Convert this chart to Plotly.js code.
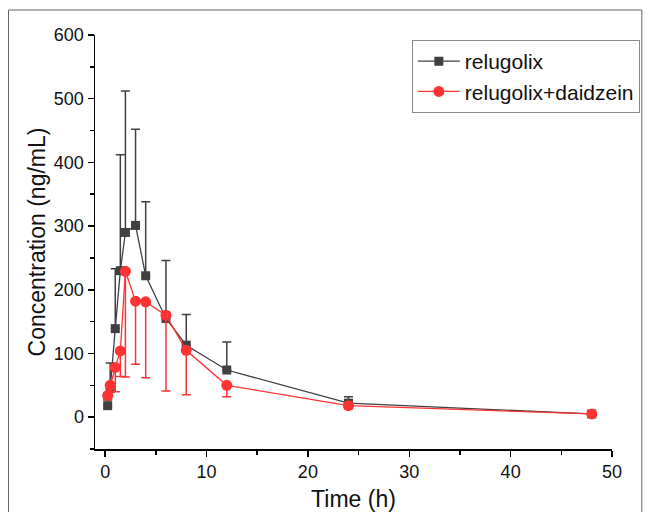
<!DOCTYPE html>
<html>
<head>
<meta charset="utf-8">
<script src="https://cdn.plot.ly/plotly-3.0.1.min.js"></script>
<style>html,body{margin:0;padding:0;background:#fff;}#chart{width:652px;height:512px;}</style>
</head>
<body>
<div id="chart"></div>
<script>
// Time points (h)
const timeH = [0.25, 0.5, 1, 1.5, 2, 3, 4, 6, 8, 12, 24, 48];
// relugolix mean concentration (ng/mL) and upper SD
const relugolix = [18, 45, 139, 230, 290, 301, 222, 155, 113, 74, 22, 5];
const relugolixSD = [9, 40, 94, 182, 222, 151, 116, 91, 48, 44, 10, 3];
// relugolix + daidzein mean concentration (ng/mL) and lower SD
const combo = [34, 50, 78, 104, 229, 182, 181, 160, 105, 50, 18, 5];
const comboSD = [6, 10, 38, 40, 166, 99, 119, 119, 70, 18, 5, 2];
const zeros = timeH.map(() => 0);

const seriesNames = ['relugolix', 'relugolix+daidzein'];
const xTicks = [0, 10, 20, 30, 40, 50];
const yTicks = [0, 100, 200, 300, 400, 500, 600];

const FONT = 'Liberation Sans, Arial, sans-serif';

const traces = [
  {
    x: timeH, y: relugolix, name: seriesNames[0], type: 'scatter', mode: 'lines+markers',
    line: {color: '#404040', width: 1.3},
    marker: {symbol: 'square', size: 9, color: '#404040'},
    error_y: {type: 'data', symmetric: false, array: relugolixSD, arrayminus: zeros,
              color: '#404040', thickness: 1.5, width: 4.5}
  },
  {
    x: timeH, y: combo, name: seriesNames[1], type: 'scatter', mode: 'lines+markers',
    line: {color: '#ff3333', width: 1.3},
    marker: {symbol: 'circle', size: 11, color: '#ff3333'},
    error_y: {type: 'data', symmetric: false, array: zeros, arrayminus: comboSD,
              color: '#ff3333', thickness: 1.5, width: 4.5}
  }
];

const layout = {
  width: 652, height: 512,
  margin: {l: 95, r: 37, t: 35, b: 63},
  paper_bgcolor: '#fff', plot_bgcolor: '#fff',
  font: {family: FONT, color: '#111', size: 18},
  showlegend: true,
  legend: {
    x: (643 - 95) / 520, y: (449 - 40) / 414, xanchor: 'right', yanchor: 'top',
    bordercolor: '#888', borderwidth: 1, bgcolor: '#fff',
    font: {family: FONT, size: 21, color: '#111'},
    itemwidth: 42, tracegroupgap: 0
  },
  xaxis: {
    range: [-1, 50], tickvals: xTicks, ticktext: xTicks.map(String),
    showline: true, linecolor: '#000', linewidth: 1.5, mirror: false,
    ticks: 'outside', ticklen: 6, tickwidth: 1.5, tickcolor: '#000',
    minor: {dtick: 5, tick0: 0, ticks: 'outside', ticklen: 4, tickwidth: 1.5, tickcolor: '#000'},
    showgrid: false, zeroline: false, automargin: false,
    tickfont: {family: FONT, size: 18, color: '#111'},
    title: {text: 'Time (h)', font: {family: FONT, size: 23, color: '#111'}, standoff: 13}
  },
  yaxis: {
    range: [-50, 600], tickvals: yTicks, ticktext: yTicks.map(String),
    showline: true, linecolor: '#000', linewidth: 1.5, mirror: false,
    ticks: 'outside', ticklen: 6, tickwidth: 1.5, tickcolor: '#000',
    minor: {dtick: 50, tick0: 0, ticks: 'outside', ticklen: 4, tickwidth: 1.5, tickcolor: '#000'},
    showgrid: false, zeroline: false, automargin: false,
    tickfont: {family: FONT, size: 18, color: '#111'},
    title: {text: 'Concentration (ng/mL)', font: {family: FONT, size: 23, color: '#111'}, standoff: 2}
  },
  shapes: [
    {type: 'rect', xref: 'paper', yref: 'paper',
     x0: (8 - 95) / 520, x1: (645 - 95) / 520, y0: (449 - 530) / 414, y1: (449 - 10) / 414,
     line: {color: '#666', width: 1}, fillcolor: 'rgba(0,0,0,0)', layer: 'below'}
  ]
};

Plotly.newPlot('chart', traces, layout, {displayModeBar: false, staticPlot: true});
</script>
</body>
</html>
